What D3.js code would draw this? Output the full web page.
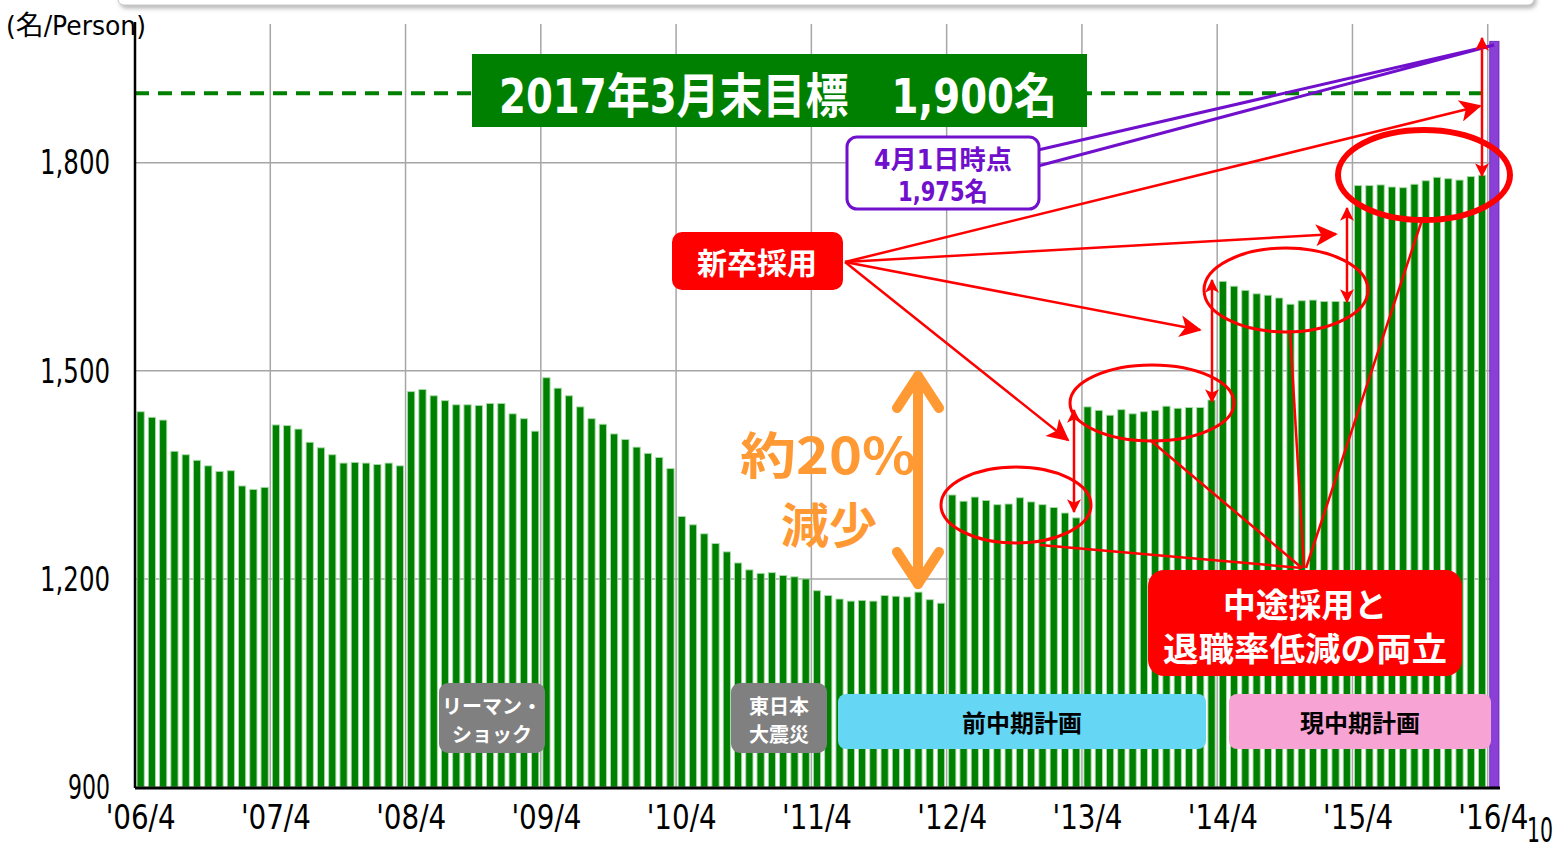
<!DOCTYPE html>
<html>
<head>
<meta charset="utf-8">
<script src="https://cdn.jsdelivr.net/npm/d3@7"></script>
<style>
  body { margin: 0; background: #fff; }
  svg { display: block; }
  .jp { font-family: "Noto Sans CJK JP", sans-serif; }
  .num { font-family: "Liberation Sans Narrow", "DejaVu Sans Condensed", "Noto Sans CJK JP", sans-serif; font-stretch: condensed; }
</style>
</head>
<body>
<svg id="chart" width="1554" height="848"></svg>
<script>
// headcount per month, '06/4 .. '16/3 (green bars)
var headcount = [
  1441, 1433, 1429, 1384, 1379, 1371, 1363, 1355, 1356, 1334, 1329, 1332,
  1422, 1421, 1416, 1397, 1389, 1379, 1367, 1368, 1367, 1365, 1367, 1363,
  1470, 1473, 1464, 1457, 1451, 1451, 1450, 1453, 1453, 1438, 1431, 1413,
  1490, 1475, 1464, 1448, 1431, 1423, 1409, 1401, 1390, 1381, 1375, 1359,
  1290, 1278, 1265, 1251, 1239, 1223, 1213, 1208, 1209, 1205, 1203, 1200,
  1183, 1176, 1171, 1168, 1169, 1168, 1176, 1175, 1174, 1181, 1170, 1165,
  1321, 1312, 1318, 1313, 1307, 1308, 1317, 1311, 1307, 1303, 1295, 1288,
  1448, 1443, 1436, 1444, 1438, 1441, 1443, 1449, 1446, 1447, 1447, 1458,
  1629, 1622, 1616, 1611, 1609, 1605, 1596, 1601, 1602, 1600, 1600, 1600,
  1767, 1767, 1768, 1765, 1764, 1769, 1774, 1779, 1777, 1775, 1780, 1782
];
// 2016/4/1 (purple bar)
var april2016 = 1975;
var target = 1900;

var yTicks = [900, 1200, 1500, 1800];
var yTickLabels = ["900", "1,200", "1,500", "1,800"];
var xTickLabels = ["'06/4", "'07/4", "'08/4", "'09/4", "'10/4", "'11/4",
                   "'12/4", "'13/4", "'14/4", "'15/4", "'16/4"];

// month keys, one per bar
var months = [];
for (var yr = 2006; yr <= 2016; yr++) {
    for (var m = 0; m < 12; m++) {
        var mm = ((m + 3) % 12) + 1;
        var yy = mm < 4 ? yr + 1 : yr;
        if (months.length < headcount.length + 1) months.push(yy + "/" + mm);
    }
}
var barData = headcount.map(function(v, i){ return {key: months[i], value: v, last: false}; });
barData.push({key: months[headcount.length], value: april2016, last: true});

var svg = d3.select('#chart');
var LEFT = 135, RIGHT = 1499, BOTTOM = 787, TOP = 24;

var xScale = d3.scaleBand()
    .domain(months)
    .range([LEFT, RIGHT])
    .paddingInner(0.36)
    .paddingOuter(0.18);
var step = xScale.step();
var yScale = d3.scaleLinear()
    .domain([900, 2000])
    .range([BOTTOM, TOP]);

var defs = svg.append('defs');
var shadow = defs.append('filter').attr('id', 'shadow').attr('x', '-5%').attr('y', '-100%')
    .attr('width', '110%').attr('height', '400%');
shadow.append('feDropShadow').attr('dx', 2).attr('dy', 3).attr('stdDeviation', 2)
    .attr('flood-color', '#888').attr('flood-opacity', 0.6);
defs.append('marker')
    .attr('id', 'redArrow').attr('viewBox', '0 0 12 12')
    .attr('refX', 11).attr('refY', 6)
    .attr('markerWidth', 14).attr('markerHeight', 14)
    .attr('markerUnits', 'userSpaceOnUse').attr('orient', 'auto-start-reverse')
  .append('path').attr('d', 'M0,0 L12,6 L0,12 L3,6 Z').attr('fill', '#ff0000');
defs.append('marker')
    .attr('id', 'redBig').attr('viewBox', '0 0 12 12')
    .attr('refX', 11).attr('refY', 6)
    .attr('markerWidth', 26).attr('markerHeight', 22)
    .attr('markerUnits', 'userSpaceOnUse').attr('orient', 'auto')
  .append('path').attr('d', 'M0,0 L12,6 L0,12 L3,6 Z').attr('fill', '#ff0000');

// top frame shadow strip
svg.append('rect')
    .attr('x', 118).attr('y', -20).attr('width', 1416).attr('height', 25).attr('rx', 6)
    .attr('fill', '#fff').attr('stroke', '#c8c8c8').attr('filter', 'url(#shadow)');

// gridlines
svg.append('g').selectAll('line.h')
    .data(yTicks.slice(1))
    .enter().append('line')
    .attr('x1', LEFT).attr('x2', RIGHT)
    .attr('y1', function(d){ return yScale(d); })
    .attr('y2', function(d){ return yScale(d); })
    .attr('stroke', '#a6a6a6').attr('stroke-width', 1.5);
var yearStarts = months.filter(function(d, i){ return i > 0 && i % 12 === 0; });
svg.append('g').selectAll('line.v')
    .data(yearStarts)
    .enter().append('line')
    .attr('x1', function(d){ return xScale(d) - step * 0.18; })
    .attr('x2', function(d){ return xScale(d) - step * 0.18; })
    .attr('y1', TOP).attr('y2', BOTTOM)
    .attr('stroke', '#a6a6a6').attr('stroke-width', 1.5);

// bars
svg.append('g').selectAll('rect')
    .data(barData)
    .enter().append('rect')
    .attr('x', function(d){ return xScale(d.key); })
    .attr('y', function(d){ return yScale(d.value); })
    .attr('width', function(d){ return d.last ? xScale.bandwidth() + 2 : xScale.bandwidth(); })
    .attr('height', function(d){ return BOTTOM - yScale(d.value); })
    .attr('fill', function(d){ return d.last ? '#8a3fd6' : '#008000'; })
    .attr('stroke', function(d){ return d.last ? '#6a28b8' : '#a9dca9'; })
    .attr('stroke-width', 0.9);

// target line
svg.append('line')
    .attr('x1', LEFT).attr('x2', 1488)
    .attr('y1', yScale(target)).attr('y2', yScale(target))
    .attr('stroke', '#008000').attr('stroke-width', 4)
    .attr('stroke-dasharray', '14,9');

// axes (narrow text squeezed to the reference's condensed look)
var yAxis = d3.axisLeft(yScale).tickValues(yTicks)
    .tickFormat(function(d, i){ return yTickLabels[i]; }).tickSize(0).tickPadding(25);
var gy = svg.append('g').attr('transform', 'translate(' + LEFT + ',0)').call(yAxis);
gy.select('.domain').remove();
gy.selectAll('text').attr('class', 'num').attr('font-size', 33).attr('fill', '#000')
    .attr('dy', '0.34em')
    .attr('textLength', function(d, i){ return yTickLabels[i].length * 14; })
    .attr('lengthAdjust', 'spacingAndGlyphs');
svg.append('line').attr('x1', LEFT).attr('x2', LEFT).attr('y1', 22).attr('y2', BOTTOM + 1)
    .attr('stroke', '#000').attr('stroke-width', 2.5);

var xAxis = d3.axisBottom(xScale)
    .tickValues(months.filter(function(d, i){ return i % 12 === 0; }))
    .tickFormat(function(d, i){ return xTickLabels[i]; })
    .tickSize(0).tickPadding(18);
var gx = svg.append('g').attr('transform', 'translate(0,' + BOTTOM + ')').call(xAxis);
gx.select('.domain').remove();
gx.selectAll('text').attr('class', 'num').attr('font-size', 34).attr('fill', '#000')
    .attr('textLength', 70).attr('lengthAdjust', 'spacingAndGlyphs');
svg.append('line').attr('x1', LEFT).attr('x2', 1500).attr('y1', BOTTOM + 1).attr('y2', BOTTOM + 1)
    .attr('stroke', '#000').attr('stroke-width', 3);

svg.append('text').attr('class', 'num').attr('x', 6).attr('y', 35)
    .attr('font-size', 27).attr('textLength', 140).attr('lengthAdjust', 'spacingAndGlyphs')
    .text('(名/Person)');
// page number
svg.append('text').attr('class', 'num').attr('x', 1527).attr('y', 842)
    .attr('font-size', 34).attr('textLength', 26).attr('lengthAdjust', 'spacingAndGlyphs').text('10');

// target title box
svg.append('rect').attr('x', 472).attr('y', 54).attr('width', 615).attr('height', 73)
    .attr('fill', '#008000');
svg.append('text').attr('class', 'num').attr('x', 778).attr('y', 113)
    .attr('text-anchor', 'middle').attr('font-size', 48).attr('font-weight', 'bold')
    .attr('fill', '#fff').attr('textLength', 558).attr('lengthAdjust', 'spacingAndGlyphs')
    .text('2017年3月末目標　1,900名');

// purple callout
svg.append('path')
    .attr('d', 'M1038,150 L1494,45 L1038,166')
    .attr('fill', 'none').attr('stroke', '#7010cc').attr('stroke-width', 3);
svg.append('rect').attr('x', 847).attr('y', 137).attr('width', 192).attr('height', 72).attr('rx', 10)
    .attr('fill', '#fff').attr('stroke', '#7010cc').attr('stroke-width', 3);
svg.append('text').attr('class', 'num').attr('x', 943).attr('y', 169)
    .attr('text-anchor', 'middle').attr('font-size', 26).attr('font-weight', 'bold').attr('fill', '#7010cc')
    .attr('textLength', 138).attr('lengthAdjust', 'spacingAndGlyphs').text('4月1日時点');
svg.append('text').attr('class', 'num').attr('x', 943).attr('y', 201)
    .attr('text-anchor', 'middle').attr('font-size', 26).attr('font-weight', 'bold').attr('fill', '#7010cc')
    .attr('textLength', 90).attr('lengthAdjust', 'spacingAndGlyphs').text('1,975名');

// red ellipses
var ellipses = [
    {cx: 1016, cy: 505, rx: 75, ry: 38, w: 3},
    {cx: 1152, cy: 403, rx: 82, ry: 38, w: 3},
    {cx: 1286, cy: 290, rx: 82, ry: 42, w: 3},
    {cx: 1424, cy: 175, rx: 86, ry: 45, w: 6}
];
svg.append('g').selectAll('ellipse').data(ellipses).enter().append('ellipse')
    .attr('cx', function(d){ return d.cx; }).attr('cy', function(d){ return d.cy; })
    .attr('rx', function(d){ return d.rx; }).attr('ry', function(d){ return d.ry; })
    .attr('fill', 'none').attr('stroke', '#ff0000').attr('stroke-width', function(d){ return d.w; });

// lines from ellipses to bottom red box
var convergeLines = [[1040, 545, 1302, 568], [1150, 440, 1302, 568], [1290, 330, 1304, 568], [1422, 220, 1306, 568]];
svg.append('g').selectAll('line').data(convergeLines).enter().append('line')
    .attr('x1', function(d){ return d[0]; }).attr('y1', function(d){ return d[1]; })
    .attr('x2', function(d){ return d[2]; }).attr('y2', function(d){ return d[3]; })
    .attr('stroke', '#ff0000').attr('stroke-width', 2.5);

// April double arrows (new graduates)
var doubleArrows = [[1074, 410, 512], [1212, 280, 402], [1347, 208, 302], [1482, 38, 176]];
svg.append('g').selectAll('line').data(doubleArrows).enter().append('line')
    .attr('x1', function(d){ return d[0]; }).attr('x2', function(d){ return d[0]; })
    .attr('y1', function(d){ return d[1]; }).attr('y2', function(d){ return d[2]; })
    .attr('stroke', '#ff0000').attr('stroke-width', 2.5)
    .attr('marker-start', 'url(#redArrow)').attr('marker-end', 'url(#redArrow)');

// rays from 新卒採用
var rays = [[1480, 106], [1336, 234], [1200, 330], [1068, 440]];
svg.append('g').selectAll('line').data(rays).enter().append('line')
    .attr('x1', 845).attr('y1', 262)
    .attr('x2', function(d){ return d[0]; }).attr('y2', function(d){ return d[1]; })
    .attr('stroke', '#ff0000').attr('stroke-width', 2.5)
    .attr('marker-end', 'url(#redBig)');

// 新卒採用 box
svg.append('rect').attr('x', 672).attr('y', 232).attr('width', 171).attr('height', 58).attr('rx', 10)
    .attr('fill', '#ff0000');
svg.append('text').attr('class', 'jp').attr('x', 757).attr('y', 274)
    .attr('text-anchor', 'middle').attr('font-size', 30).attr('font-weight', 'bold').attr('fill', '#fff')
    .text('新卒採用');

// bottom red box
svg.append('rect').attr('x', 1148).attr('y', 570).attr('width', 314).attr('height', 106).attr('rx', 16)
    .attr('fill', '#ff0000');
svg.append('text').attr('class', 'jp').attr('x', 1305).attr('y', 617)
    .attr('text-anchor', 'middle').attr('font-size', 33).attr('font-weight', 'bold').attr('fill', '#fff')
    .attr('textLength', 164).attr('lengthAdjust', 'spacingAndGlyphs')
    .text('中途採用と');
svg.append('text').attr('class', 'jp').attr('x', 1305).attr('y', 661)
    .attr('text-anchor', 'middle').attr('font-size', 33).attr('font-weight', 'bold').attr('fill', '#fff')
    .attr('textLength', 284).attr('lengthAdjust', 'spacingAndGlyphs')
    .text('退職率低減の両立');

// orange 約20%減少
svg.append('line').attr('x1', 918).attr('x2', 918).attr('y1', 376).attr('y2', 584)
    .attr('stroke', '#ff9933').attr('stroke-width', 10).attr('stroke-linecap', 'round');
svg.append('path').attr('d', 'M897,408 L918,376 L939,408 M897,552 L918,584 L939,552')
    .attr('fill', 'none').attr('stroke', '#ff9933').attr('stroke-width', 10)
    .attr('stroke-linecap', 'round').attr('stroke-linejoin', 'round');
svg.append('text').attr('class', 'jp').attr('x', 828).attr('y', 474)
    .attr('text-anchor', 'middle').attr('font-size', 50).attr('fill', '#ff9933').attr('font-weight', 'bold')
    .attr('textLength', 176).attr('lengthAdjust', 'spacingAndGlyphs').text('約20%');
svg.append('text').attr('class', 'jp').attr('x', 829).attr('y', 543)
    .attr('text-anchor', 'middle').attr('font-size', 48).attr('fill', '#ff9933').attr('font-weight', 'bold')
    .text('減少');

// event boxes
var eventBoxes = [
    {x: 439, w: 106, lines: ['リーマン・', 'ショック']},
    {x: 731, w: 96, lines: ['東日本', '大震災']}
];
eventBoxes.forEach(function(b){
    svg.append('rect').attr('x', b.x).attr('y', 683).attr('width', b.w).attr('height', 70).attr('rx', 9)
        .attr('fill', '#808080');
    b.lines.forEach(function(t, i){
        svg.append('text').attr('class', 'jp').attr('x', b.x + b.w / 2).attr('y', 714 + i * 28)
            .attr('text-anchor', 'middle').attr('font-size', 20).attr('font-weight', 'bold')
            .attr('fill', '#fff').text(t);
    });
});

// plan boxes
var planBoxes = [
    {x: 838, w: 368, label: '前中期計画', fill: '#66d6f5'},
    {x: 1229, w: 262, label: '現中期計画', fill: '#f7a3d3'}
];
planBoxes.forEach(function(b){
    svg.append('rect').attr('x', b.x).attr('y', 694).attr('width', b.w).attr('height', 55).attr('rx', 8)
        .attr('fill', b.fill);
    svg.append('text').attr('class', 'jp').attr('x', b.x + b.w / 2).attr('y', 732)
        .attr('text-anchor', 'middle').attr('font-size', 24).attr('font-weight', 'bold')
        .attr('fill', '#000').text(b.label);
});
</script>
</body>
</html>
